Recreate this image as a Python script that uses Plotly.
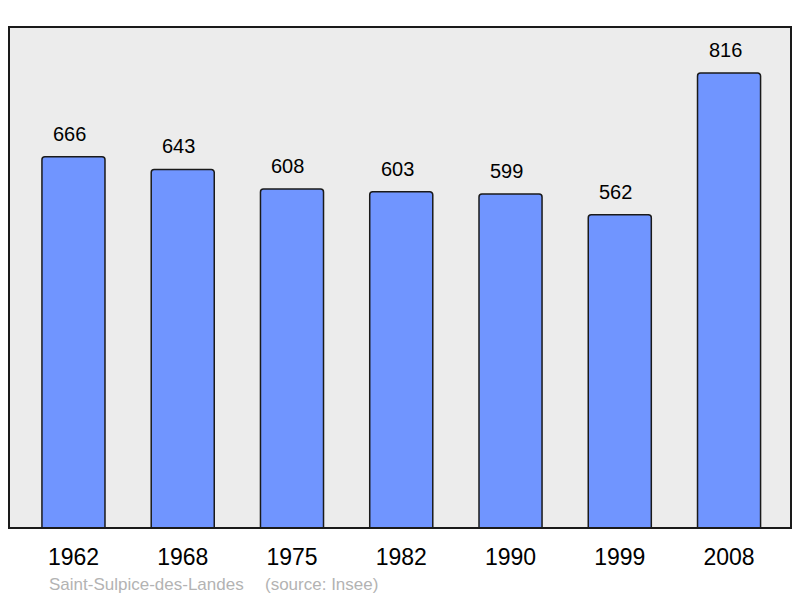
import plotly.graph_objects as go

years = ["1962", "1968", "1975", "1982", "1990", "1999", "2008"]
population = [666, 643, 608, 603, 599, 562, 816]
town = "Saint-Sulpice-des-Landes"
source = "(source: Insee)"

xpos = list(range(len(years)))

# page body has an 8px margin: figure is offset by 8px
OFF = 8
L, T, R, B = 9 - OFF, 27 - OFF, 791 - OFF, 528 - OFF
W, H = 800 - OFF, 598 - OFF
PW, PH = R - L, B - T

fig = go.Figure()
fig.add_trace(go.Bar(
    x=xpos, y=population, width=0.577,
    marker=dict(color="#7095ff", line=dict(color="#1a1a1a", width=1.5), cornerradius=3),
    hoverinfo="skip",
))

for x, v in zip(xpos, population):
    fig.add_annotation(x=x, y=v, text=str(v), showarrow=False, yanchor="bottom",
                       yshift=10, xshift=-4, font=dict(size=20, color="#000000"))

fy = ((528 - OFF) - (584 - OFF)) / PH
fig.add_annotation(xref="paper", yref="paper", x=(47 - 9) / PW, y=fy,
                   text=town, showarrow=False, xanchor="left", yanchor="middle",
                   font=dict(size=17, color="#b3b3b3"))
fig.add_annotation(xref="paper", yref="paper", x=(263 - 9) / PW, y=fy,
                   text=source, showarrow=False, xanchor="left", yanchor="middle",
                   font=dict(size=17, color="#b3b3b3"))

fig.add_shape(type="rect", xref="paper", yref="paper", x0=0, y0=0, x1=1, y1=1,
              line=dict(color="#1a1a1a", width=2), layer="above")

fig.update_layout(
    width=W, height=H,
    margin=dict(l=L, r=W - R, t=T, b=H - B),
    paper_bgcolor="#ffffff", plot_bgcolor="#ececec",
    font=dict(family="Liberation Sans, Arial, sans-serif"),
    showlegend=False,
    xaxis=dict(range=[-0.59, 6.567], tickvals=xpos, ticktext=years, showgrid=False,
               zeroline=False, ticks="", tickfont=dict(size=23, color="#000000"),
               ticklabelstandoff=13, fixedrange=True),
    yaxis=dict(range=[0, 898.5], showgrid=False, zeroline=False, showticklabels=False,
               ticks="", fixedrange=True),
)

fig.write_html("out.html")
